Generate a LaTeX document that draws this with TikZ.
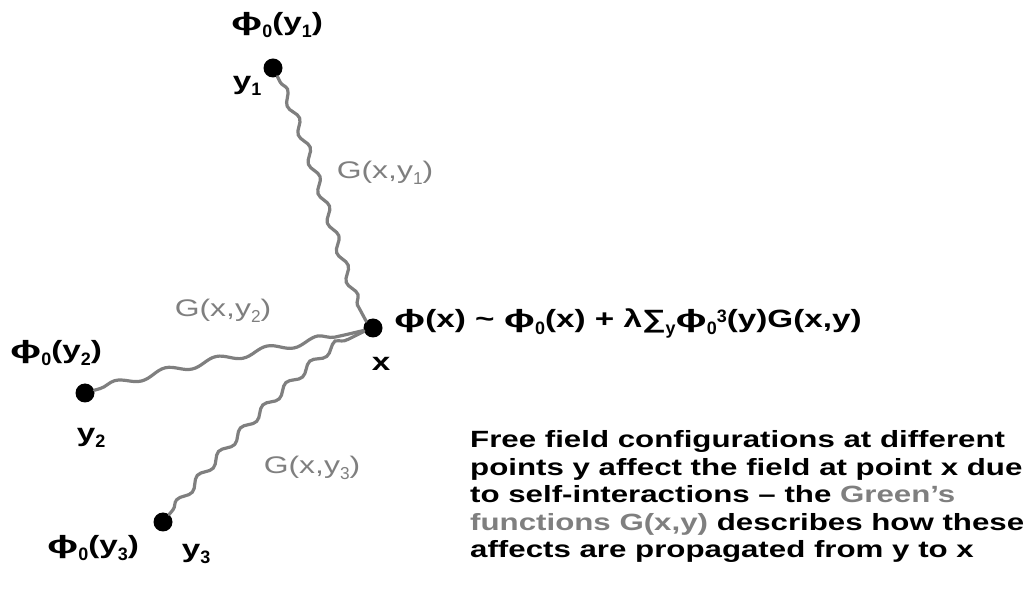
\documentclass[tikz,border=0pt]{standalone}
\usepackage{fontspec}
\setmainfont{Liberation Sans}[FakeStretch=1.33]
\usetikzlibrary{decorations.pathmorphing}
\definecolor{lg}{HTML}{7F7F7F}
% sub/superscripts: 0.72 of the size, not stretched
\newcommand\lo[1]{\raisebox{-0.25em}{\scalebox{0.75}[1]{\fontsize{0.72em}{0.72em}\selectfont #1}}}
\newcommand\hi[1]{\raisebox{0.2em}{\scalebox{0.75}[1]{\fontsize{0.72em}{0.72em}\selectfont #1}}}
\newcommand\ph{\scalebox{1.25}[1]{ɸ}}
\begin{document}
\begin{tikzpicture}[x=1pt,y=-1pt,
  dot/.style={circle,fill=black,inner sep=0pt,minimum size=19pt},
  lab/.style={inner sep=0pt,font=\fontsize{25}{29}\selectfont\bfseries},
  eqlab/.style={inner sep=0pt,font=\fontsize{25}{29}\selectfont\bfseries},
  glab/.style={inner sep=0pt,text=lg,font=\fontsize{24}{28}\selectfont},
  para/.style={inner sep=0pt,font=\fontsize{23.5}{27.5}\selectfont\bfseries},
  wave/.style={draw=lg,line width=3.2pt,line cap=round,decorate,
    decoration={snake,amplitude=3.6pt,segment length=#1,pre length=6pt,post length=18pt}}
]
\useasboundingbox (0,0) rectangle (1029,601);
% points
\node[dot] (y1) at (273,68) {};
\node[dot] (x) at (373,328) {};
\node[dot] (y2) at (85,393) {};
\node[dot] (y3) at (163,522) {};
% control coordinates
\coordinate (a1) at (310,140);
\coordinate (b1) at (350,305);
\coordinate (a2) at (180,365);
\coordinate (b2) at (320,342);
\coordinate (a3) at (230,440);
\coordinate (b3) at (320,348);
% propagators
\draw[wave=31pt] (y1) .. controls (a1) and (b1) .. (x);
\draw[wave=52pt] (y2) .. controls (a2) and (b2) .. (x);
\draw[wave=32pt] (y3) .. controls (a3) and (b3) .. (x);
% labels
\node[lab] (py1) at (277,25) {\ph\lo{0}(y\lo{1})};
\node[lab] (ly1) at (247,86) {y\lo{1}};
\node[glab] (g1) at (385,173) {G(x,y\lo{1})};
\node[glab] (g2) at (223,311) {G(x,y\lo{2})};
\node[lab] (py2) at (56,353) {\ph\lo{0}(y\lo{2})};
\node[lab] (ly2) at (91,438) {y\lo{2}};
\node[lab] (lx) at (381,364) {x};
\node[glab] (g3) at (312,468) {G(x,y\lo{3})};
\node[lab] (py3) at (93,548) {\ph\lo{0}(y\lo{3})};
\node[lab] (ly3) at (196,554) {y\lo{3}};
\node[eqlab,anchor=base west] (eq) at (394,328) {\ph(x) \char"7E{} \ph\lo{0}(x) + λ∑\lo{y}\ph\lo{0}\hi{3}(y)G(x,y)};
\node[para,anchor=north west,align=left] (txt) at (470,430.5) {Free field configurations at different\\
points y affect the field at point x due\\
to self-interactions – the \textcolor{lg}{Green’s}\\
\textcolor{lg}{functions G(x,y)} describes how these\\
affects are propagated from y to x};
\end{tikzpicture}
\end{document}
